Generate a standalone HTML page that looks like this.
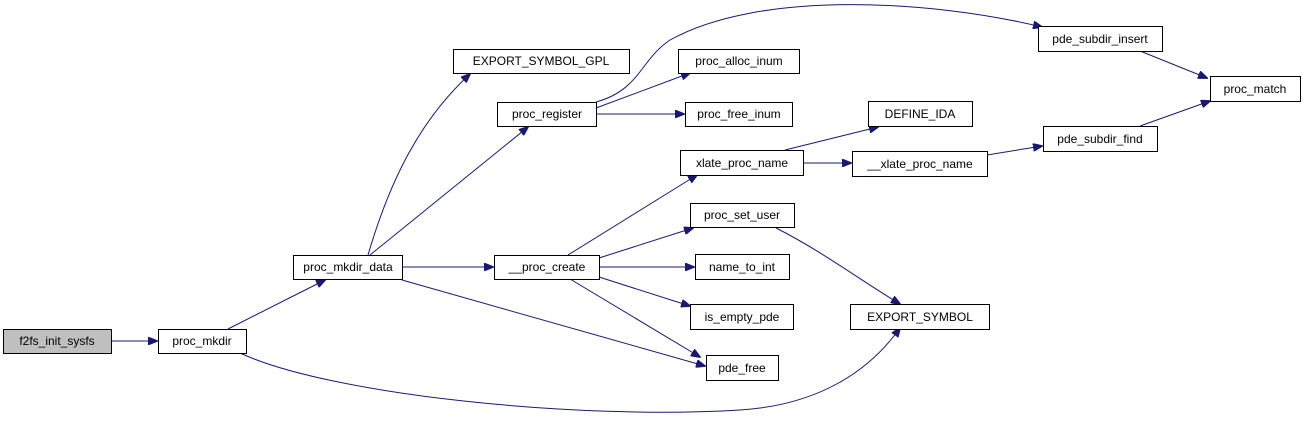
<!DOCTYPE html>
<html><head><meta charset="utf-8"><style>
html,body{margin:0;padding:0;background:#fff;width:1305px;height:423px;overflow:hidden}
text{font-family:"Liberation Sans",sans-serif;font-size:12px;fill:#000;text-anchor:middle}
rect{fill:#fff;stroke:#000;stroke-width:1}
path.e{fill:none;stroke:#191970;stroke-width:1}
</style></head><body>
<svg width="1305" height="423" viewBox="0 0 1305 423" xmlns="http://www.w3.org/2000/svg">
<defs><marker id="a" markerWidth="10" markerHeight="8" refX="9" refY="4" orient="auto" markerUnits="userSpaceOnUse"><path d="M0,0 L10,4 L0,8 z" fill="#191970" stroke="#191970"/></marker></defs>
<g>
<path class="e" marker-end="url(#a)" d="M111,341 L157,341"/>
<path class="e" marker-end="url(#a)" d="M228,329 L325,280"/>
<path class="e" marker-end="url(#a)" d="M240,353 C330,395 580,420 740,410 C820,405 870,370 900,328"/>
<path class="e" marker-end="url(#a)" d="M402,267 L493,267"/>
<path class="e" marker-end="url(#a)" d="M368,255 C390,180 420,120 470,74"/>
<path class="e" marker-end="url(#a)" d="M370,255 L528,127"/>
<path class="e" marker-end="url(#a)" d="M402,280 L705,366"/>
<path class="e" marker-end="url(#a)" d="M596,108 L690,73"/>
<path class="e" marker-end="url(#a)" d="M596,114 L684,114"/>
<path class="e" marker-end="url(#a)" d="M596,102 C640,90 640,60 670,40 C760,-10 930,0 1042,27"/>
<path class="e" marker-end="url(#a)" d="M568,255 L697,175"/>
<path class="e" marker-end="url(#a)" d="M599,258 L693,228"/>
<path class="e" marker-end="url(#a)" d="M599,267 L694,267"/>
<path class="e" marker-end="url(#a)" d="M599,277 L690,306"/>
<path class="e" marker-end="url(#a)" d="M570,279 L700,357"/>
<path class="e" marker-end="url(#a)" d="M785,150 L878,127"/>
<path class="e" marker-end="url(#a)" d="M803,163 L851,163"/>
<path class="e" marker-end="url(#a)" d="M776,228 C820,250 860,280 900,304"/>
<path class="e" marker-end="url(#a)" d="M987,155 L1042,146"/>
<path class="e" marker-end="url(#a)" d="M1140,51 L1207,78"/>
<path class="e" marker-end="url(#a)" d="M1140,126 L1210,101"/>
</g>
<rect x="3.5" y="329.5" width="108" height="24" style="fill:#bfbfbf"/><text x="57" y="345">f2fs_init_sysfs</text>
<rect x="158.5" y="329.5" width="88" height="24"/><text x="202" y="345">proc_mkdir</text>
<rect x="293.5" y="255.5" width="109" height="24"/><text x="348" y="271">proc_mkdir_data</text>
<rect x="453.5" y="49.5" width="176" height="24"/><text x="541" y="65">EXPORT_SYMBOL_GPL</text>
<rect x="497.5" y="102.5" width="99" height="24"/><text x="547" y="118">proc_register</text>
<rect x="494.5" y="255.5" width="105" height="24"/><text x="547" y="271">__proc_create</text>
<rect x="678.5" y="49.5" width="121" height="24"/><text x="739" y="65">proc_alloc_inum</text>
<rect x="685.5" y="102.5" width="107" height="24"/><text x="739" y="118">proc_free_inum</text>
<rect x="680.5" y="150.5" width="123" height="25"/><text x="742" y="167">xlate_proc_name</text>
<rect x="690.5" y="203.5" width="104" height="24"/><text x="742" y="219">proc_set_user</text>
<rect x="695.5" y="254.5" width="94" height="25"/><text x="742" y="271">name_to_int</text>
<rect x="690.5" y="304.5" width="103" height="25"/><text x="742" y="321">is_empty_pde</text>
<rect x="706.5" y="355.5" width="72" height="25"/><text x="742" y="372">pde_free</text>
<rect x="868.5" y="101.5" width="104" height="25"/><text x="920" y="118">DEFINE_IDA</text>
<rect x="852.5" y="151.5" width="135" height="25"/><text x="920" y="168">__xlate_proc_name</text>
<rect x="850.5" y="304.5" width="139" height="25"/><text x="920" y="321">EXPORT_SYMBOL</text>
<rect x="1038.5" y="26.5" width="124" height="25"/><text x="1100" y="43">pde_subdir_insert</text>
<rect x="1043.5" y="126.5" width="114" height="25"/><text x="1100" y="143">pde_subdir_find</text>
<rect x="1210.5" y="76.5" width="90" height="25"/><text x="1255" y="93">proc_match</text>
</svg>
</body></html>
